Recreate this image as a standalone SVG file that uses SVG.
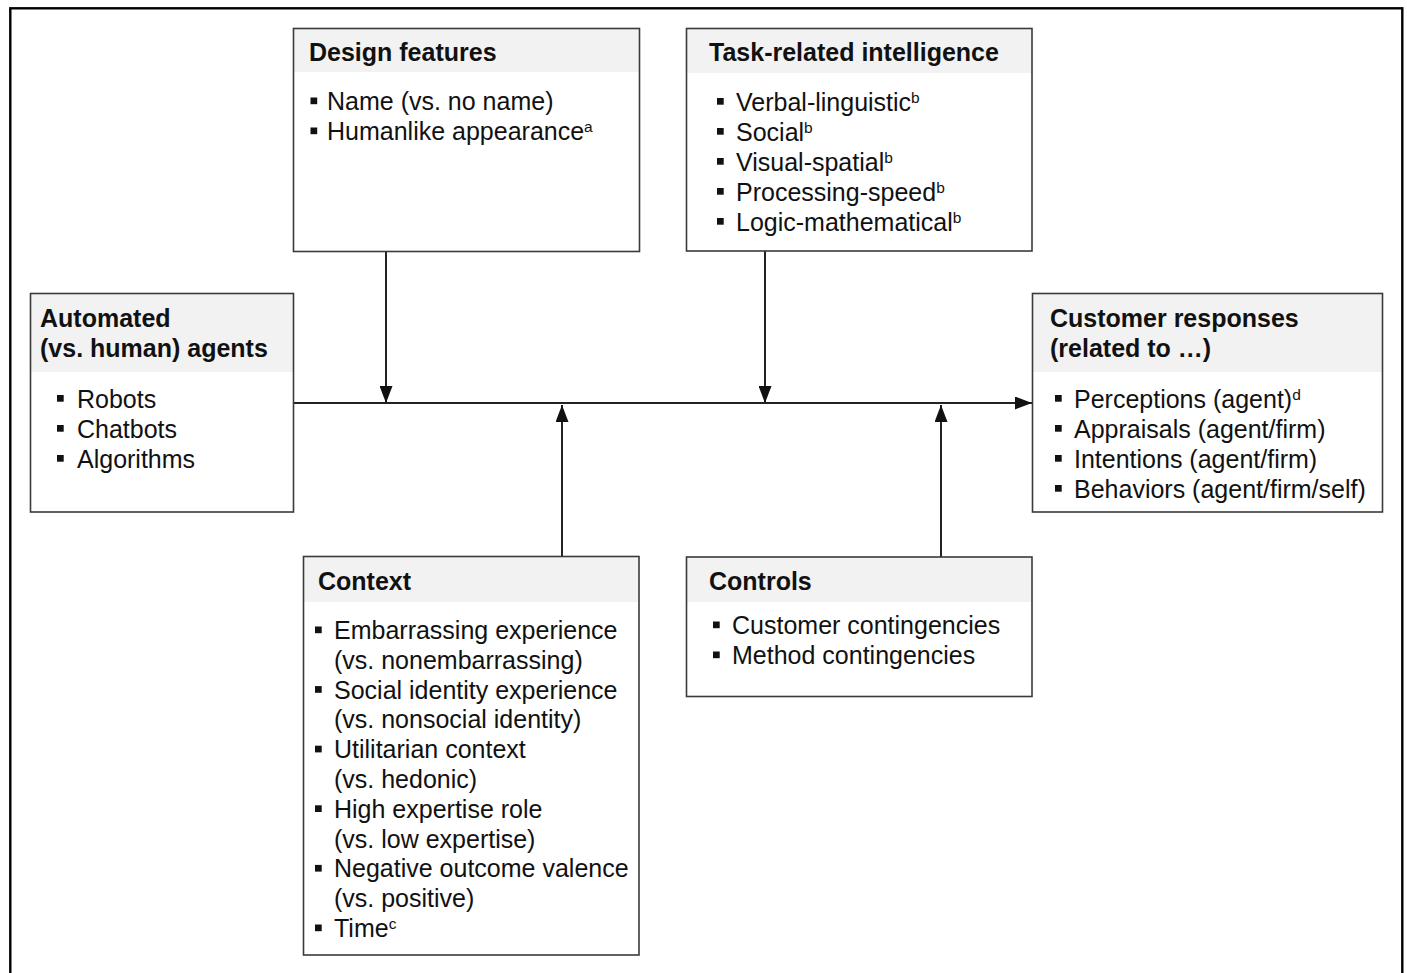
<svg xmlns="http://www.w3.org/2000/svg" width="1407" height="973" viewBox="0 0 1407 973">
<defs>
<style>
.box{fill:none;stroke:#3a3a3a;stroke-width:1.6}
.band{fill:#f2f2f2}
.bg{fill:#ffffff}
.t{font-family:"Liberation Sans",Arial,sans-serif;font-size:25px;font-weight:bold;fill:#111}
.i{font-family:"Liberation Sans",Arial,sans-serif;font-size:25px;fill:#111}
.sup{font-size:15.5px}
.b{fill:#111}
.conn{fill:none;stroke:#222;stroke-width:2}
</style>
<marker id="ah" markerUnits="userSpaceOnUse" markerWidth="18" markerHeight="13" refX="17" refY="6.5" orient="auto" viewBox="0 0 18 13">
<path d="M0,0 L17,6.5 L0,13 z" fill="#111"/>
</marker>
</defs>
<rect width="1407" height="973" fill="#ffffff"/>
<rect id="frame" x="10.3" y="8.3" width="1392" height="1000" fill="none" stroke="#000" stroke-width="2.4"/>

<g id="connectors">
<line class="conn" x1="293.5" y1="403" x2="1032" y2="403" marker-end="url(#ah)"/>
<line class="conn" x1="386" y1="251.5" x2="386" y2="403" marker-end="url(#ah)"/>
<line class="conn" x1="765" y1="251" x2="765" y2="403" marker-end="url(#ah)"/>
<line class="conn" x1="562" y1="556.5" x2="562" y2="405" marker-end="url(#ah)"/>
<line class="conn" x1="941" y1="557" x2="941" y2="405" marker-end="url(#ah)"/>
</g>

<g id="node-design">
<rect class="bg" x="293.5" y="28.5" width="346" height="223"/>
<rect class="band" x="293.5" y="28.5" width="346" height="43.5"/>
<rect class="box" x="293.5" y="28.5" width="346" height="223"/>
<text class="t" x="309" y="61">Design features</text>
<rect class="b" x="310.5" y="97.5" width="6.7" height="6.7"/>
<text class="i" x="327" y="110">Name (vs. no name)</text>
<rect class="b" x="310.5" y="127.5" width="6.7" height="6.7"/>
<text class="i" x="327" y="140">Humanlike appearance<tspan class="sup" dy="-8">a</tspan></text>
</g>

<g id="node-task">
<rect class="bg" x="686.5" y="28.5" width="345.5" height="222.5"/>
<rect class="band" x="686.5" y="28.5" width="345.5" height="44.5"/>
<rect class="box" x="686.5" y="28.5" width="345.5" height="222.5"/>
<text class="t" x="709" y="61">Task-related intelligence</text>
<rect class="b" x="717" y="98" width="6.7" height="6.7"/>
<text class="i" x="736" y="110.5">Verbal-linguistic<tspan class="sup" dy="-8">b</tspan></text>
<rect class="b" x="717" y="128" width="6.7" height="6.7"/>
<text class="i" x="736" y="140.5">Social<tspan class="sup" dy="-8">b</tspan></text>
<rect class="b" x="717" y="158" width="6.7" height="6.7"/>
<text class="i" x="736" y="170.5">Visual-spatial<tspan class="sup" dy="-8">b</tspan></text>
<rect class="b" x="717" y="188" width="6.7" height="6.7"/>
<text class="i" x="736" y="200.5">Processing-speed<tspan class="sup" dy="-8">b</tspan></text>
<rect class="b" x="717" y="218" width="6.7" height="6.7"/>
<text class="i" x="736" y="230.5">Logic-mathematical<tspan class="sup" dy="-8">b</tspan></text>
</g>

<g id="node-agents">
<rect class="bg" x="30.5" y="293.5" width="263" height="218.5"/>
<rect class="band" x="30.5" y="293.5" width="263" height="78.5"/>
<rect class="box" x="30.5" y="293.5" width="263" height="218.5"/>
<text class="t" x="40" y="327">Automated</text>
<text class="t" x="40" y="357">(vs. human) agents</text>
<rect class="b" x="57" y="395" width="6.7" height="6.7"/>
<text class="i" x="77" y="407.5">Robots</text>
<rect class="b" x="57" y="425" width="6.7" height="6.7"/>
<text class="i" x="77" y="437.5">Chatbots</text>
<rect class="b" x="57" y="455" width="6.7" height="6.7"/>
<text class="i" x="77" y="467.5">Algorithms</text>
</g>

<g id="node-responses">
<rect class="bg" x="1032.5" y="293.5" width="350" height="218.5"/>
<rect class="band" x="1032.5" y="293.5" width="350" height="78.5"/>
<rect class="box" x="1032.5" y="293.5" width="350" height="218.5"/>
<text class="t" x="1050" y="327">Customer responses</text>
<text class="t" x="1050" y="357">(related to …)</text>
<rect class="b" x="1055" y="395" width="6.7" height="6.7"/>
<text class="i" x="1074" y="407.5">Perceptions (agent)<tspan class="sup" dy="-8">d</tspan></text>
<rect class="b" x="1055" y="425" width="6.7" height="6.7"/>
<text class="i" x="1074" y="437.5">Appraisals (agent/firm)</text>
<rect class="b" x="1055" y="455" width="6.7" height="6.7"/>
<text class="i" x="1074" y="467.5">Intentions (agent/firm)</text>
<rect class="b" x="1055" y="485" width="6.7" height="6.7"/>
<text class="i" x="1074" y="497.5">Behaviors (agent/firm/self)</text>
</g>

<g id="node-context">
<rect class="bg" x="303.5" y="556.5" width="335.5" height="398.5"/>
<rect class="band" x="303.5" y="556.5" width="335.5" height="45.5"/>
<rect class="box" x="303.5" y="556.5" width="335.5" height="398.5"/>
<text class="t" x="318" y="590">Context</text>
<rect class="b" x="315" y="626.5" width="6.7" height="6.7"/>
<text class="i" x="334" y="639">Embarrassing experience</text>
<text class="i" x="334" y="668.8">(vs. nonembarrassing)</text>
<rect class="b" x="315" y="686.1" width="6.7" height="6.7"/>
<text class="i" x="334" y="698.6">Social identity experience</text>
<text class="i" x="334" y="728.4">(vs. nonsocial identity)</text>
<rect class="b" x="315" y="745.7" width="6.7" height="6.7"/>
<text class="i" x="334" y="758.2">Utilitarian context</text>
<text class="i" x="334" y="788">(vs. hedonic)</text>
<rect class="b" x="315" y="805.3" width="6.7" height="6.7"/>
<text class="i" x="334" y="817.8">High expertise role</text>
<text class="i" x="334" y="847.6">(vs. low expertise)</text>
<rect class="b" x="315" y="864.9" width="6.7" height="6.7"/>
<text class="i" x="334" y="877.4">Negative outcome valence</text>
<text class="i" x="334" y="907.2">(vs. positive)</text>
<rect class="b" x="315" y="924.5" width="6.7" height="6.7"/>
<text class="i" x="334" y="937">Time<tspan class="sup" dy="-8">c</tspan></text>
</g>

<g id="node-controls">
<rect class="bg" x="686.5" y="557" width="345.5" height="139.5"/>
<rect class="band" x="686.5" y="557" width="345.5" height="45"/>
<rect class="box" x="686.5" y="557" width="345.5" height="139.5"/>
<text class="t" x="709" y="590">Controls</text>
<rect class="b" x="713" y="621.5" width="6.7" height="6.7"/>
<text class="i" x="732" y="634">Customer contingencies</text>
<rect class="b" x="713" y="651.5" width="6.7" height="6.7"/>
<text class="i" x="732" y="664">Method contingencies</text>
</g>
</svg>
